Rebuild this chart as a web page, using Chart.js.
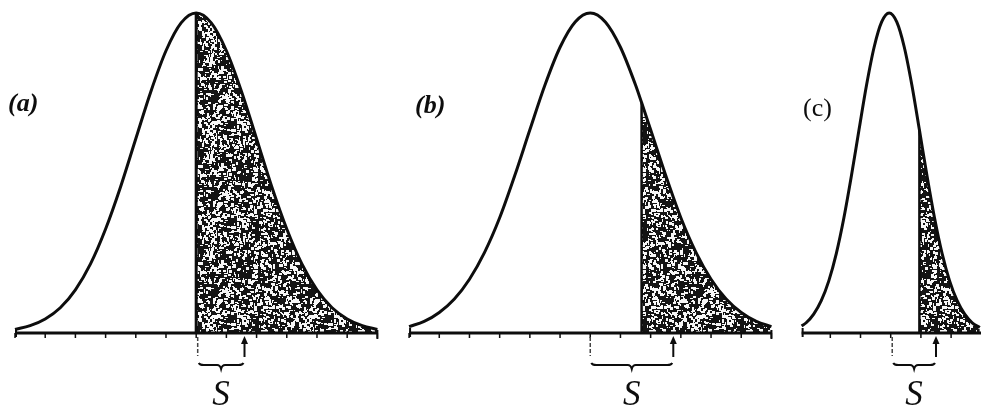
<!DOCTYPE html>
<html lang="en">
<head>
<meta charset="UTF-8">
<title>Shaded tails</title>
<script src="https://cdn.jsdelivr.net/npm/chart.js"></script>
<style>
  html, body { margin: 0; padding: 0; background: #fff; }
</style>
</head>
<body>
<canvas id="chart" width="981" height="410"></canvas>
<script>
// x is measured in baseline divisions, y in percent of the peak height
const panelLabels = ['(a)', '(b)', '(c)'];

const aX = [0, 0.5, 1, 1.5, 2, 2.5, 3, 3.5, 4, 4.5, 5, 5.5, 6,
            6.5, 7, 7.5, 8, 8.5, 9, 9.5, 10, 10.5, 11, 11.5, 12];
const aY = [1.1, 2.3, 4.4, 7.9, 13.5, 21.6, 32.5, 45.8, 60.7, 75.5, 88.2, 96.9, 100,
            96.9, 88.2, 75.5, 60.7, 45.8, 32.5, 21.6, 13.5, 7.9, 4.4, 2.3, 1.1];

const bX = [13.05, 13.55, 14.05, 14.55, 15.05, 15.55, 16.05, 16.55, 17.05, 17.55, 18.05, 18.55, 19.05,
            19.55, 20.05, 20.55, 20.75, 21.05, 21.55, 22.05, 22.55, 23.05, 23.55, 24.05, 24.55, 25.05];
const bY = [2.0, 3.6, 6.4, 10.6, 16.8, 25.2, 36.0, 49.2, 63.5, 77.5, 89.3, 97.2, 100,
            97.2, 89.3, 77.5, 72.0, 63.5, 49.2, 36.0, 25.2, 16.8, 10.6, 6.4, 3.6, 2.0];

const cX = [26.05, 26.2, 26.45, 26.7, 26.95, 27.2, 27.45, 27.7, 27.95, 28.2, 28.45, 28.7, 28.95,
            29.2, 29.45, 29.7, 29.95, 30.2, 30.45, 30.7, 30.95, 31.2, 31.45, 31.7, 31.95];
const cY = [2.2, 3.2, 5.9, 10.1, 16.3, 24.9, 36.0, 49.2, 63.5, 77.5, 89.3, 97.2, 100,
            97.2, 89.3, 77.5, 63.5, 49.2, 36.0, 24.9, 16.3, 10.1, 5.9, 3.2, 1.7];

const aTicks = [0, 1, 2, 3, 4, 5, 6, 7, 8, 9, 10, 11, 12];
const bTicks = [13.05, 14.05, 15.05, 16.05, 17.05, 18.05, 19.05, 20.05, 21.05, 22.05, 23.05, 24.05, 25.05];
const cTicks = [27, 28, 29, 30, 31];

const axisFrom = [0, 13.05, 26.05];
const axisTo = [12, 25.05, 32];
const shadeFrom = [6, 20.75, 29.95];
const markAt = [6.05, 19.05, 29.05];
const arrowAt = [7.6, 21.8, 30.5];

const curves = [[aX, aY], [bX, bY], [cX, cY]];
const ticks = [aTicks, bTicks, cTicks];

const ctx = document.getElementById('chart').getContext('2d');

// blotchy speckled fill for the tails
function stipple() {
  const n = 97;
  const c = document.createElement('canvas');
  c.width = c.height = n;
  const g = c.getContext('2d');
  g.fillStyle = '#141414';
  g.fillRect(0, 0, n, n);
  g.fillStyle = '#f7f7f7';
  let s = 24681;
  const rnd = () => (s = (s * 16807) % 2147483647) / 2147483647;
  for (let k = 0; k < 1150; k++) {
    const x = Math.floor(rnd() * n), y = Math.floor(rnd() * n);
    const w = 1 + Math.floor(rnd() * 3), h = 1 + Math.floor(rnd() * 3);
    g.fillRect(x, y, w, h);
    // wrap blobs across the tile edge so the repeat is seamless
    if (x + w > n) g.fillRect(x - n, y, w, h);
    if (y + h > n) g.fillRect(x, y - n, w, h);
  }
  return ctx.createPattern(c, 'repeat');
}
const speckle = stipple();

const toPoints = (xs, ys) => xs.map((x, i) => ({ x: x, y: ys[i] }));

const datasets = [];
curves.forEach(([xs, ys]) => {
  datasets.push({
    data: toPoints(xs, ys),
    borderColor: '#0d0d0d',
    borderWidth: 3,
    pointRadius: 0,
    cubicInterpolationMode: 'monotone',
    fill: false,
    clip: false,
    order: 1
  });
});
curves.forEach(([xs, ys], i) => {
  datasets.push({
    data: toPoints(xs, ys).filter(p => p.x >= shadeFrom[i]),
    borderWidth: 0,
    borderColor: 'rgba(0,0,0,0)',
    backgroundColor: speckle,
    pointRadius: 0,
    cubicInterpolationMode: 'monotone',
    fill: 'origin',
    clip: false,
    order: 2
  });
});

const marks = {
  id: 'marks',
  afterDatasetsDraw(chart) {
    const c = chart.ctx;
    const sx = chart.scales.x, sy = chart.scales.y;
    const px = v => sx.getPixelForValue(v);
    const base = sy.getPixelForValue(0);
    c.save();
    c.strokeStyle = '#0d0d0d';
    c.fillStyle = '#0d0d0d';
    c.lineCap = 'butt';

    for (let i = 0; i < 3; i++) {
      // baseline
      c.lineWidth = 3;
      c.beginPath();
      c.moveTo(px(axisFrom[i]), base);
      c.lineTo(px(axisTo[i]), base);
      c.stroke();

      // end caps
      c.lineWidth = 2;
      c.beginPath();
      c.moveTo(px(axisFrom[i]) + 1, base - 5);
      c.lineTo(px(axisFrom[i]) + 1, base + 4);
      if (i < 2) {
        c.moveTo(px(axisTo[i]), base - 3);
        c.lineTo(px(axisTo[i]), base + 6);
      }
      c.stroke();

      // division ticks
      c.lineWidth = 1.5;
      c.beginPath();
      ticks[i].forEach(t => {
        c.moveTo(px(t), base);
        c.lineTo(px(t), base + 5);
      });
      c.stroke();

      // left edge of the shaded tail
      const [xs, ys] = curves[i];
      const k = xs.indexOf(shadeFrom[i]);
      c.lineWidth = i === 0 ? 3 : 2.5;
      c.beginPath();
      c.moveTo(px(shadeFrom[i]), base);
      c.lineTo(px(shadeFrom[i]), sy.getPixelForValue(ys[k]));
      c.stroke();

      // dashed marker at the centre
      const m = px(markAt[i]);
      c.lineWidth = 1.5;
      c.strokeStyle = '#444';
      c.setLineDash([4, 2]);
      c.beginPath();
      c.moveTo(m, base + 4);
      c.lineTo(m, base + 23);
      c.stroke();
      c.setLineDash([]);
      c.strokeStyle = '#0d0d0d';

      // arrow pointing up at the baseline
      const a = px(arrowAt[i]);
      c.lineWidth = 2;
      c.beginPath();
      c.moveTo(a, base + 24);
      c.lineTo(a, base + 9);
      c.stroke();
      c.beginPath();
      c.moveTo(a, base + 3);
      c.lineTo(a - 3.5, base + 11);
      c.lineTo(a + 3.5, base + 11);
      c.closePath();
      c.fill();

      // brace under the interval
      const y0 = base + 32;
      const mid = (m + a) / 2;
      c.lineWidth = 2;
      c.beginPath();
      c.moveTo(m + 1, y0 - 2);
      c.quadraticCurveTo(m + 2, y0, m + 6, y0);
      c.lineTo(mid - 4, y0);
      c.quadraticCurveTo(mid - 1, y0, mid, y0 + 4);
      c.quadraticCurveTo(mid + 1, y0, mid + 4, y0);
      c.lineTo(a - 6, y0);
      c.quadraticCurveTo(a - 2, y0, a - 1, y0 - 2);
      c.stroke();

      // S label
      c.font = 'italic 35px "Liberation Serif"';
      c.textAlign = 'center';
      c.textBaseline = 'alphabetic';
      c.fillText('S', mid, base + 72);
    }

    // panel labels
    c.textAlign = 'left';
    c.font = 'italic bold 26px "Liberation Serif"';
    c.fillText(panelLabels[0], 8, 111);
    c.fillText(panelLabels[1], 415, 113);
    c.font = '26px "Liberation Serif"';
    c.fillText(panelLabels[2], 803, 116);
    c.restore();
  }
};

new Chart(ctx, {
  type: 'line',
  data: { datasets: datasets },
  options: {
    responsive: false,
    animation: false,
    events: [],
    layout: { padding: { left: 0, right: 0, top: 13, bottom: 77 } },
    scales: {
      x: { type: 'linear', min: -0.497, max: 31.99, display: false },
      y: { min: 0, max: 100, display: false }
    },
    plugins: {
      legend: { display: false },
      tooltip: { enabled: false }
    }
  },
  plugins: [marks]
});
</script>
</body>
</html>
